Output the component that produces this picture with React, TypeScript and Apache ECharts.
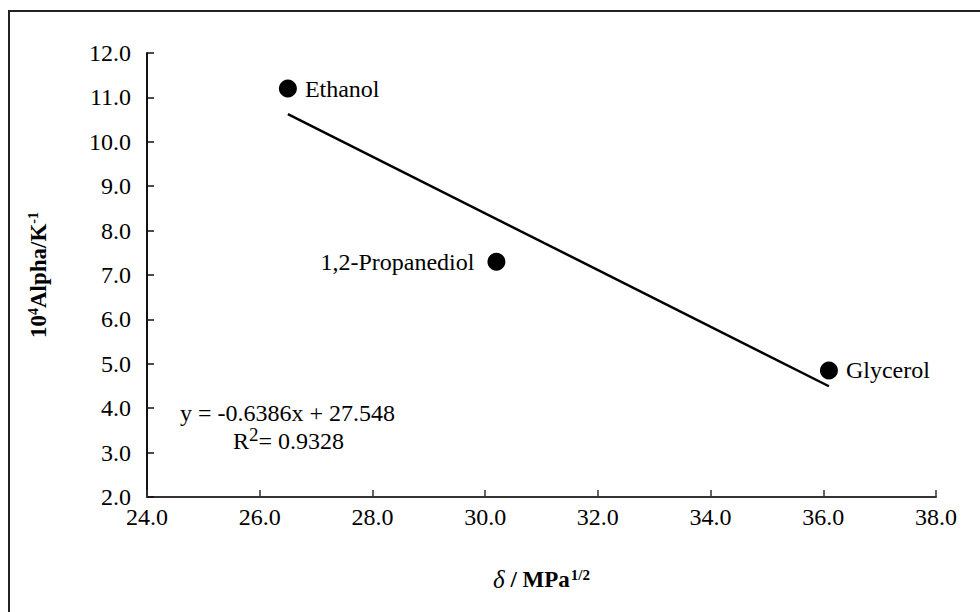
import React, { useEffect, useRef } from "react";
import * as echarts from "echarts";

const solvents = ["Ethanol", "1,2-Propanediol", "Glycerol"];
const delta = [26.5, 30.2, 36.1];
const alpha = [11.2, 7.3, 4.85];
const labelSides = ["right", "left", "right"];
const slope = -0.6386;
const intercept = 27.548;
const rSquared = "0.9328";
const fitRange = [26.5, 36.1];

const FONT = "Times New Roman";

export default function App() {
  const ref = useRef<HTMLDivElement>(null);
  useEffect(() => {
    if (!ref.current) return;
    const chart = echarts.init(ref.current, null, { renderer: "svg" });
    const points = delta.map((d, i) => ({
      value: [d, alpha[i]],
      name: solvents[i],
      label: { position: labelSides[i], distance: labelSides[i] === "left" ? 13 : 8 },
    }));
    const fit = fitRange.map((x) => [x, slope * x + intercept]);
    chart.setOption({
      animation: false,
      backgroundColor: "#fff",
      grid: { left: 147, right: 44, top: 53, bottom: 115 },
      xAxis: {
        type: "value",
        min: 24,
        max: 38,
        interval: 2,
        splitLine: { show: false },
        axisLine: { lineStyle: { color: "#333", width: 2 } },
        axisTick: { inside: true, length: 7, lineStyle: { color: "#333", width: 1.5 } },
        axisLabel: {
          formatter: (v: number) => v.toFixed(1),
          fontFamily: FONT,
          fontSize: 24,
          color: "#000",
          margin: 8,
        },
        name: "{d|δ}{b|\u00a0/ MPa}{s|1/2}",
        nameLocation: "middle",
        nameGap: 70,
        nameTextStyle: {
          fontFamily: FONT,
          rich: {
            d: { fontSize: 25, fontStyle: "italic", fontFamily: FONT, color: "#000" },
            b: { fontSize: 23, fontWeight: "bold", fontFamily: FONT, color: "#000" },
            s: { fontSize: 15, fontWeight: "bold", fontFamily: FONT, color: "#000", padding: [0, 0, 10, 1] },
          },
        },
      },
      yAxis: {
        type: "value",
        min: 2,
        max: 12,
        interval: 1,
        splitLine: { show: false },
        axisLine: { lineStyle: { color: "#111", width: 2 } },
        axisTick: { inside: true, length: 7, lineStyle: { color: "#111", width: 1.5 } },
        axisLabel: {
          formatter: (v: number) => v.toFixed(1),
          fontFamily: FONT,
          fontSize: 24,
          color: "#000",
          margin: 16,
        },
        name: "{b|10}{s|4}{b|Alpha/K}{s|-1}",
        nameLocation: "middle",
        nameRotate: 90,
        nameGap: 96,
        nameTextStyle: {
          fontFamily: FONT,
          rich: {
            b: { fontSize: 23, fontWeight: "bold", fontFamily: FONT, color: "#000" },
            s: { fontSize: 14, fontWeight: "bold", fontFamily: FONT, color: "#000", padding: [0, 0, 11, 0] },
          },
        },
      },
      series: [
        {
          type: "line",
          data: fit,
          symbol: "none",
          lineStyle: { color: "#000", width: 2.5 },
          silent: true,
          z: 2,
        },
        {
          type: "scatter",
          data: points,
          symbol: "circle",
          symbolSize: 18,
          itemStyle: { color: "#000", opacity: 1 },
          label: {
            show: true,
            formatter: (p: any) => p.name,
            fontFamily: FONT,
            fontSize: 24,
            color: "#000",
          },
          z: 3,
        },
      ],
      graphic: [
        {
          type: "rect",
          shape: { x: 9, y: 11, width: 1200, height: 900 },
          style: { fill: "none", stroke: "#222", lineWidth: 2 },
          silent: true,
        },
        {
          type: "text",
          x: 180,
          y: 401,
          style: {
            text: `y = ${slope}x + ${intercept}`,
            fontFamily: FONT,
            fontSize: 24,
            fill: "#000",
          },
        },
        {
          type: "text",
          x: 233,
          y: 425,
          style: {
            text: `{r|R}{s|2}{r|= ${rSquared}}`,
            rich: {
              r: { fontSize: 24, fontFamily: FONT, fill: "#000" },
              s: { fontSize: 19, fontFamily: FONT, fill: "#000", padding: [0, 0, 13, 0] },
            },
          },
        },
      ],
    });
    return () => chart.dispose();
  }, []);
  return (
    <div
      ref={ref}
      style={{ position: "fixed", left: 0, top: 0, width: 980, height: 612 }}
    />
  );
}
